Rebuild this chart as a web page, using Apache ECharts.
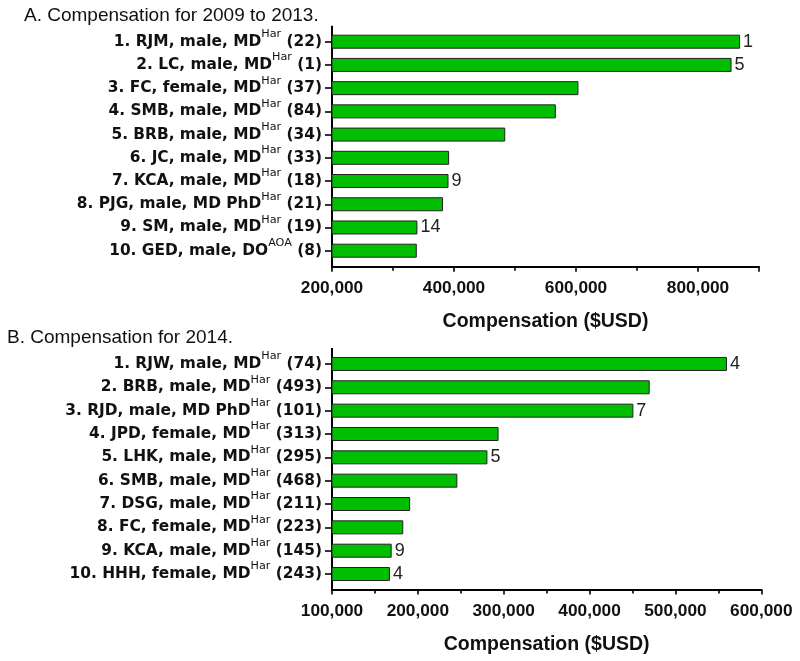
<!DOCTYPE html>
<html>
<head>
<meta charset="utf-8">
<script src="https://cdn.jsdelivr.net/npm/echarts@6/dist/echarts.min.js"></script>
<style>
html,body{margin:0;padding:0;background:#fff;}
#c{width:800px;height:661px;}
</style>
</head>
<body>
<div id="c"></div>
<script>
// ---------- Data ----------
const titleA = 'A. Compensation for 2009 to 2013.';
const titleB = 'B. Compensation for 2014.';
const axisName = 'Compensation ($USD)';

const namesA = ['1. RJM, male, MD', '2. LC, male, MD', '3. FC, female, MD', '4. SMB, male, MD', '5. BRB, male, MD',
  '6. JC, male, MD', '7. KCA, male, MD', '8. PJG, male, MD PhD', '9. SM, male, MD', '10. GED, male, DO'];
const supA = ['Har', 'Har', 'Har', 'Har', 'Har', 'Har', 'Har', 'Har', 'Har', 'AOA'];
const countsA = ['(22)', '(1)', '(37)', '(84)', '(34)', '(33)', '(18)', '(21)', '(19)', '(8)'];
const valuesA = [869000, 855000, 604000, 567000, 484000, 392000, 391000, 382000, 340000, 339000];
const ranksA = ['1', '5', '', '', '', '', '9', '', '14', ''];

const namesB = ['1. RJW, male, MD', '2. BRB, male, MD', '3. RJD, male, MD PhD', '4. JPD, female, MD', '5. LHK, male, MD',
  '6. SMB, male, MD', '7. DSG, male, MD', '8. FC, female, MD', '9. KCA, male, MD', '10. HHH, female, MD'];
const supB = ['Har', 'Har', 'Har', 'Har', 'Har', 'Har', 'Har', 'Har', 'Har', 'Har'];
const countsB = ['(74)', '(493)', '(101)', '(313)', '(295)', '(468)', '(211)', '(223)', '(145)', '(243)'];
const valuesB = [560000, 470000, 451000, 294000, 281000, 246000, 191000, 183000, 169500, 167500];
const ranksB = ['4', '', '7', '', '5', '', '', '', '9', '4'];

const ticksA = {min: 200000, max: 900000, interval: 200000};
const ticksB = {min: 100000, max: 600000, interval: 100000};

// ---------- Layout / style ----------
const GREEN = '#00BF00';
const gridA = {left: 332, width: 427, top: 30.1, height: 232.2};
const gridB = {left: 332, width: 429.3, top: 352.3, height: 233.4};
const offA = 4.5, offB = 3.8, ext = 4.4;

function cats(names, sups, counts) {
  return names.map((n, i) => n + '^' + sups[i] + '^' + counts[i]);
}
function catFormatter(v) {
  const p = v.split('^');
  return '{b|' + p[0] + '}{s|' + p[1] + '}{b| ' + p[2] + '}';
}
const rich = {
  b: {fontFamily: 'DejaVu Sans', fontWeight: 'bold', fontSize: 15.4, color: '#111', lineHeight: 26},
  s: {fontFamily: 'DejaVu Sans', fontSize: 11.2, color: '#111', lineHeight: 11, verticalAlign: 'top'}
};

function yAxisCfg(gi, names, sups, counts) {
  return {
    type: 'category', gridIndex: gi, inverse: true,
    data: cats(names, sups, counts),
    axisLine: {show: false},
    axisTick: {show: true, alignWithLabel: true, length: 7, lineStyle: {color: '#000', width: 1.6}},
    axisLabel: {interval: 0, margin: 10, formatter: catFormatter, rich: rich}
  };
}
function xAxisCfg(gi, t, off, hideMax) {
  return {
    type: 'value', gridIndex: gi, min: t.min, max: t.max, interval: t.interval, offset: off,
    splitLine: {show: false},
    axisLine: {show: true, lineStyle: {color: '#000', width: 2}},
    axisTick: {show: true, length: 5, lineStyle: {color: '#000', width: 1.6}},
    minorTick: {show: true, splitNumber: 2, length: 4, lineStyle: {color: '#000', width: 1.6}},
    axisLabel: {
      margin: 13, color: '#111', fontFamily: 'Liberation Sans, Arial', fontWeight: 'bold', fontSize: 17.3,
      showMaxLabel: !hideMax,
      formatter: v => v.toLocaleString('en-US')
    },
    name: axisName, nameLocation: 'middle', nameGap: 45,
    nameTextStyle: {color: '#111', fontFamily: 'Liberation Sans, Arial', fontWeight: 'bold', fontSize: 19.5}
  };
}
function barSeries(gi, vals, ranks) {
  return {
    type: 'bar', xAxisIndex: gi, yAxisIndex: gi, barWidth: 14,
    data: vals,
    itemStyle: {color: GREEN, borderColor: '#222', borderWidth: 1},
    label: {
      show: true, position: 'right', distance: 3, color: '#222',
      fontFamily: 'Liberation Sans, Arial', fontSize: 18,
      formatter: p => ranks[p.dataIndex]
    },
    silent: true, animation: false
  };
}

const chart = echarts.init(document.getElementById('c'), null, {renderer: 'canvas'});
chart.setOption({
  animation: false,
  backgroundColor: '#fff',
  title: [
    {text: titleA, left: 24, top: 6.5, padding: 0,
      textStyle: {fontFamily: 'Liberation Sans, Arial', fontWeight: 'normal', fontSize: 19, color: '#111'}},
    {text: titleB, left: 7, top: 328, padding: 0,
      textStyle: {fontFamily: 'Liberation Sans, Arial', fontWeight: 'normal', fontSize: 19, color: '#111'}}
  ],
  grid: [gridA, gridB],
  xAxis: [xAxisCfg(0, ticksA, offA, true), xAxisCfg(1, ticksB, offB, false)],
  yAxis: [yAxisCfg(0, namesA, supA, countsA), yAxisCfg(1, namesB, supB, countsB)],
  series: [barSeries(0, valuesA, ranksA), barSeries(1, valuesB, ranksB)],
  graphic: [
    {type: 'line', silent: true, shape: {x1: gridA.left, y1: gridA.top - ext, x2: gridA.left, y2: gridA.top + gridA.height + offA + 1},
      style: {stroke: '#000', lineWidth: 2}},
    {type: 'line', silent: true, shape: {x1: gridB.left, y1: gridB.top - ext, x2: gridB.left, y2: gridB.top + gridB.height + offB + 1},
      style: {stroke: '#000', lineWidth: 2}}
  ]
});
</script>
</body>
</html>
